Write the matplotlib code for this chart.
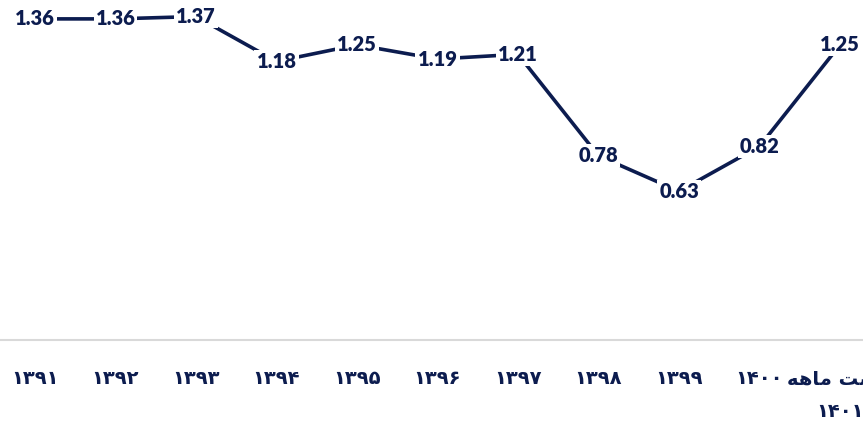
import matplotlib
matplotlib.use("Agg")
import matplotlib.pyplot as plt

# years (Persian digits); last one is "eight months 1401", written in
# presentation forms in visual order since matplotlib does no Arabic shaping
years = ["۱۳۹۱", "۱۳۹۲", "۱۳۹۳", "۱۳۹۴", "۱۳۹۵", "۱۳۹۶",
         "۱۳۹۷", "۱۳۹۸", "۱۳۹۹", "۱۴۰۰",
         "\uFEEA\uFEEB\uFE8E\uFEE3 \uFE96\uFEB8\uFEEB\n۱۴۰۱"]
values = [1.36, 1.36, 1.37, 1.18, 1.25, 1.19, 1.21, 0.78, 0.63, 0.82, 1.25]

NAVY = "#0c1c4f"

fig = plt.figure(figsize=(8.63, 4.26), dpi=100)
ax = fig.add_axes([0, (426 - 340) / 426, 1, 340 / 426])

xs = list(range(len(values)))
ax.plot(xs, values, color=NAVY, linewidth=2.6, solid_capstyle="butt", zorder=2)

for x, v in zip(xs, values):
    ax.text(x, v, f"{v:.2f}", ha="center", va="center", fontsize=14.5,
            fontweight="heavy", color=NAVY, family=["Lato", "DejaVu Sans"],
            bbox=dict(boxstyle="square,pad=0.1", fc="white", ec="none"),
            zorder=3)

ax.set_xlim(-35 / 80.5, -35 / 80.5 + 863 / 80.5)
ax.set_ylim(0, 1.44)

for side in ["top", "left", "right"]:
    ax.spines[side].set_visible(False)
ax.spines["bottom"].set_color("#d9d9d9")
ax.spines["bottom"].set_linewidth(1.5)

ax.set_yticks([])
ax.set_xticks(xs)
ax.set_xticklabels(years, fontsize=14, fontweight="bold", color=NAVY,
                   family=["DejaVu Sans"], linespacing=1.95)
ax.tick_params(axis="x", length=0, pad=21)

fig.savefig("out.png", dpi=100)
